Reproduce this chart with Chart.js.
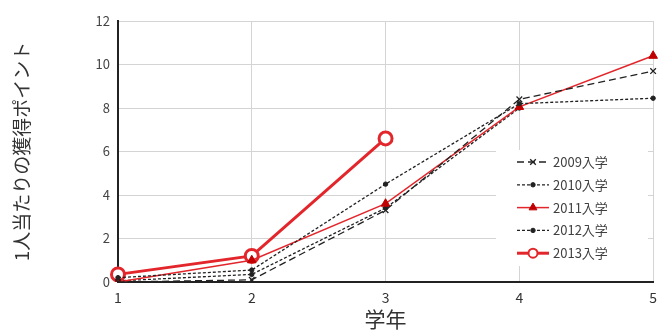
<!DOCTYPE html>
<html>
<head>
<meta charset="utf-8">
<script src="https://cdn.jsdelivr.net/npm/chart.js@4/dist/chart.umd.min.js"></script>
<style>
  html, body { margin: 0; padding: 0; background: #fff; }
  #wrap { width: 664px; height: 336px; }
</style>
</head>
<body>
<div id="wrap"><canvas id="pointChart"></canvas></div>
<script>
// data
const grades = ['1', '2', '3', '4', '5'];
const yTicks = [0, 2, 4, 6, 8, 10, 12];
const seriesNames = ['2009入学', '2010入学', '2011入学', '2012入学', '2013入学'];
const y2009 = [0.0, 0.1, 3.3, 8.4, 9.7];
const y2010 = [0.2, 0.55, 4.5, 8.2, 8.45];
const y2011 = [0.0, 1.0, 3.6, 8.05, 10.4];
const y2012 = [0.05, 0.35, 3.4, 8.0];
const y2013 = [0.35, 1.2, 6.6];

const jpFont = '"Noto Sans CJK JP", "Noto Sans", sans-serif';
const red = '#e3262b';

// legend box drawn inside the plot area
const insideLegend = {
    id: 'insideLegend',
    afterDraw(chart) {
        const ctx = chart.ctx;
        const x0 = 496, y0 = 150, w = 152, rowH = 22.8;
        ctx.save();
        ctx.fillStyle = '#fff';
        ctx.fillRect(x0, y0, w, 116);
        chart.data.datasets.forEach(function (ds, i) {
            const cy = y0 + 12 + i * rowH;
            ctx.strokeStyle = ds.borderColor;
            ctx.lineWidth = ds.borderWidth;
            ctx.setLineDash(ds.borderDash || []);
            ctx.beginPath();
            ctx.moveTo(517, cy);
            ctx.lineTo(549, cy);
            ctx.stroke();
            ctx.setLineDash([]);
            ctx.fillStyle = ds.pointBackgroundColor;
            ctx.strokeStyle = ds.pointBorderColor;
            ctx.lineWidth = Math.min(ds.pointBorderWidth || 1, 2);
            ctx.beginPath();
            Chart.helpers.drawPoint(ctx, {
                pointStyle: ds.pointStyle,
                radius: Math.min(ds.pointRadius, 4.5),
                borderWidth: ds.pointBorderWidth || 1
            }, 533, cy);
            ctx.fillStyle = '#404040';
            ctx.font = '13px ' + jpFont;
            ctx.textBaseline = 'middle';
            ctx.fillText(ds.label, 553, cy);
        });
        ctx.restore();
    }
};

new Chart(document.getElementById('pointChart'), {
    type: 'line',
    data: {
        labels: grades,
        datasets: [
            {
                label: seriesNames[0], data: y2009,
                borderColor: '#222', borderWidth: 1.3, borderDash: [7, 4],
                pointStyle: 'crossRot', pointRadius: 4,
                pointBorderColor: '#222', pointBackgroundColor: '#222', pointBorderWidth: 1.3
            },
            {
                label: seriesNames[1], data: y2010,
                borderColor: '#222', borderWidth: 1.3, borderDash: [3, 2],
                pointStyle: 'circle', pointRadius: 2.2,
                pointBorderColor: '#222', pointBackgroundColor: '#222', pointBorderWidth: 1
            },
            {
                label: seriesNames[2], data: y2011,
                borderColor: red, borderWidth: 1.5,
                pointStyle: 'triangle', pointRadius: 5,
                pointBorderColor: '#c00000', pointBackgroundColor: '#c00000', pointBorderWidth: 1
            },
            {
                label: seriesNames[3], data: y2012,
                borderColor: '#222', borderWidth: 1.3, borderDash: [3, 2],
                pointStyle: 'circle', pointRadius: 2.2,
                pointBorderColor: '#222', pointBackgroundColor: '#222', pointBorderWidth: 1
            },
            {
                label: seriesNames[4], data: y2013,
                borderColor: red, borderWidth: 3,
                pointStyle: 'circle', pointRadius: 6.5,
                pointBorderColor: red, pointBackgroundColor: '#fff', pointBorderWidth: 3
            }
        ]
    },
    options: {
        responsive: true,
        maintainAspectRatio: false,
        animation: false,
        layout: { padding: { left: 0, right: 4, top: 21, bottom: 0 } },
        plugins: {
            legend: { display: false },
            tooltip: { enabled: false }
        },
        scales: {
            x: {
                offset: false,
                grid: { color: '#d4d4d4', lineWidth: 1, offset: false, drawTicks: false },
                border: { color: '#222', width: 2 },
                ticks: { color: '#333', font: { size: 14, family: jpFont }, padding: 7 },
                title: {
                    display: true, text: '学年', color: '#333',
                    font: { size: 21, family: jpFont }, padding: { top: 3 }
                },
                afterFit: function (scale) { scale.height = 54; }
            },
            y: {
                min: 0, max: 12,
                afterBuildTicks: function (scale) {
                    scale.ticks = yTicks.map(function (v) { return { value: v }; });
                },
                grid: { color: '#d4d4d4', lineWidth: 1, drawTicks: false },
                border: { color: '#222', width: 2 },
                ticks: { color: '#444', font: { size: 13, family: jpFont }, padding: 8 },
                title: {
                    display: true, text: '1人当たりの獲得ポイント', color: '#333',
                    font: { size: 19, family: jpFont }, padding: { top: 10, bottom: 0 }
                },
                afterFit: function (scale) { scale.width = 118; }
            }
        }
    },
    plugins: [insideLegend]
});
</script>
</body>
</html>
